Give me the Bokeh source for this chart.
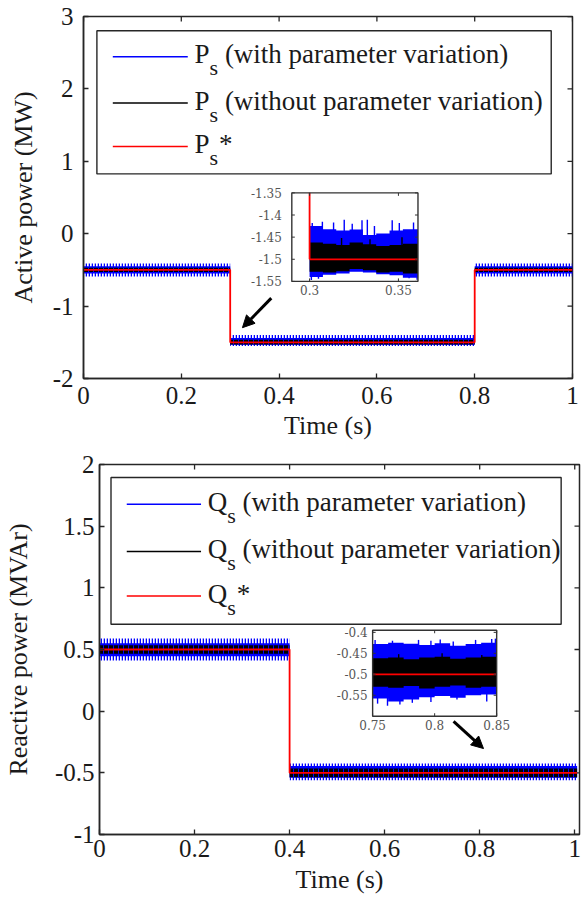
import numpy as np
from bokeh.plotting import figure
from bokeh.layouts import column
from bokeh.models import Range1d, FixedTicker, Arrow, NormalHead
from bokeh.embed import file_html
from bokeh.resources import INLINE
from bokeh.core.properties import value

FONT = "'Liberation Serif', 'Times New Roman', 'DejaVu Serif', serif"
SMALL_FONT = "'DejaVu Serif', 'Liberation Serif', serif"
BLUE, BLACK, RED = "#0000ff", "#000000", "#ff0000"
INK = "#262626"

# ---------------- Active power (MW) ----------------
p_edges = [0.0, 0.3, 0.8, 1.0]
p_ref = [-0.5, -1.5, -0.5]
p_blue_hi = [-0.41, -1.40, -0.41]          # spike envelope
p_blue_lo = [-0.59, -1.55, -0.59]
p_blue_core_hi = [-0.45, -1.44, -0.45]     # dense core
p_blue_core_lo = [-0.55, -1.535, -0.55]
p_black_hi = [-0.47, -1.465, -0.47]
p_black_lo = [-0.53, -1.53, -0.53]

p_xtick_labels = ["0", "0.2", "0.4", "0.6", "0.8", "1"]
p_ytick_labels = ["-2", "-1", "0", "1", "2", "3"]

# inset: zoom on the step at 0.3 s
p_zoom_edges = [0.300, 0.3075, 0.315, 0.3225, 0.330, 0.3375, 0.345, 0.3525, 0.361]
p_zoom_blue_hi = [-1.425, -1.432, -1.435, -1.433, -1.445, -1.442, -1.435, -1.432]
p_zoom_blue_lo = [-1.540, -1.535, -1.532, -1.528, -1.530, -1.534, -1.536, -1.542]
p_zoom_black_hi = [-1.462, -1.465, -1.468, -1.462, -1.466, -1.470, -1.468, -1.465]
p_zoom_black_lo = [-1.528, -1.530, -1.527, -1.522, -1.525, -1.530, -1.528, -1.532]
p_spike_up_t = [0.3015, 0.3072, 0.3135, 0.3195, 0.324, 0.3295, 0.3325, 0.3365, 0.3465, 0.3505, 0.3585]
p_spike_up_v = [-1.418, -1.415, -1.417, -1.411, -1.420, -1.412, -1.411, -1.425, -1.412, -1.418, -1.417]
p_spike_dn_t = [0.301, 0.305, 0.356, 0.3605]
p_spike_dn_v = [-1.547, -1.544, -1.543, -1.546]
p_kspike_t = [0.318, 0.334, 0.352]
p_kspike_v = [-1.452, -1.455, -1.450]
p_zoom_xtick_labels = ["0.3", "0.35"]
p_zoom_ytick_labels = ["-1.55", "-1.5", "-1.45", "-1.4", "-1.35"]

# ---------------- Reactive power (MVAr) ----------------
q_edges = [0.0, 0.4, 1.005]
q_ref = [0.5, -0.5]
q_blue_hi = [0.59, -0.425]
q_blue_lo = [0.41, -0.56]
q_blue_core_hi = [0.55, -0.445]
q_blue_core_lo = [0.445, -0.54]
q_black_hi = [0.535, -0.465]
q_black_lo = [0.465, -0.535]

q_xtick_labels = ["0", "0.2", "0.4", "0.6", "0.8", "1"]
q_ytick_labels = ["-1", "-0.5", "0", "0.5", "1", "1.5", "2"]

q_zoom_edges = [0.75, 0.7625, 0.775, 0.7875, 0.80, 0.8125, 0.825, 0.8375, 0.85]
q_zoom_blue_hi = [-0.428, -0.425, -0.427, -0.430, -0.426, -0.432, -0.428, -0.425]
q_zoom_blue_lo = [-0.558, -0.565, -0.560, -0.555, -0.552, -0.556, -0.550, -0.548]
q_zoom_black_hi = [-0.462, -0.460, -0.464, -0.460, -0.458, -0.463, -0.460, -0.458]
q_zoom_black_lo = [-0.530, -0.532, -0.528, -0.534, -0.530, -0.527, -0.532, -0.530]
q_spike_up_t = [0.752, 0.766, 0.787, 0.797, 0.8045, 0.815, 0.833, 0.846, 0.849]
q_spike_up_v = [-0.418, -0.420, -0.418, -0.420, -0.417, -0.422, -0.418, -0.416, -0.415]
q_spike_dn_t = [0.754, 0.762, 0.772, 0.782, 0.797, 0.818, 0.842]
q_spike_dn_v = [-0.570, -0.575, -0.572, -0.568, -0.566, -0.560, -0.565]
q_kspike_t = [0.771, 0.806, 0.838]
q_kspike_v = [-0.452, -0.450, -0.454]
q_zoom_xtick_labels = ["0.75", "0.8", "0.85"]
q_zoom_ytick_labels = ["-0.55", "-0.5", "-0.45", "-0.4"]

p_legend = [("P", "s", "(with parameter variation)"),
            ("P", "s", "(without parameter variation)"),
            ("P", "s", "*")]
q_legend = [("Q", "s", "(with parameter variation)"),
            ("Q", "s", "(without parameter variation)"),
            ("Q", "s", "*")]
legend_colors = [BLUE, BLACK, RED]


def step_xy(edges, vals):
    e = np.asarray(edges, float)
    v = np.asarray(vals, float)
    return np.repeat(e, 2)[1:-1], np.repeat(v, 2)


def level_at(edges, vals, t):
    idx = np.clip(np.searchsorted(edges, t, side="right") - 1, 0, len(vals) - 1)
    return np.asarray(vals, float)[idx]


def clip_segments(xs, ys, xr, yr):
    out = ([], [], [], [])
    for i in range(len(xs) - 1):
        x0, y0, x1, y1 = xs[i], ys[i], xs[i + 1], ys[i + 1]
        dx, dy = x1 - x0, y1 - y0
        t0, t1, ok = 0.0, 1.0, True
        for pp, qq in ((-dx, x0 - xr[0]), (dx, xr[1] - x0), (-dy, y0 - yr[0]), (dy, yr[1] - y0)):
            if pp == 0:
                if qq < 0:
                    ok = False
                    break
            else:
                r = qq / pp
                if pp < 0:
                    t0 = max(t0, r)
                else:
                    t1 = min(t1, r)
        if ok and t0 < t1:
            out[0].append(x0 + t0 * dx)
            out[1].append(y0 + t0 * dy)
            out[2].append(x0 + t1 * dx)
            out[3].append(y0 + t1 * dy)
    return out


def style_axis(ax, labels, standoff):
    ticks = [float(s) for s in labels]
    ax.ticker = FixedTicker(ticks=ticks, minor_ticks=[])
    ax.major_label_overrides = {t: s for t, s in zip(ticks, labels)}
    ax.major_tick_in = 5
    ax.major_tick_out = 0
    ax.minor_tick_line_color = None
    ax.axis_line_color = INK
    ax.axis_line_width = 1.5
    ax.major_tick_line_color = INK
    ax.major_tick_line_width = 1.3
    ax.major_label_text_font = FONT
    ax.major_label_text_color = "#1a1a1a"
    ax.major_label_text_font_size = "25px"
    ax.major_label_standoff = standoff
    ax.axis_label_text_font = FONT
    ax.axis_label_text_font_size = "26px"
    ax.axis_label_text_font_style = "normal"
    ax.axis_label_text_color = "#1a1a1a"


def make_panel(height, xr, yr, borders, xlabels, ylabels, ylabel, ystand, ylab_stand, xstand, xlab_stand):
    p = figure(width=583, height=height, x_range=Range1d(*xr), y_range=Range1d(*yr),
               output_backend="svg", toolbar_location=None, frame_align=False,
               min_border_left=borders[0], min_border_right=borders[1],
               min_border_top=borders[2], min_border_bottom=borders[3])
    p.xgrid.visible = False
    p.ygrid.visible = False
    p.outline_line_color = INK
    p.outline_line_width = 1.5
    p.outline_line_alpha = 1.0
    style_axis(p.xaxis[0], xlabels, xstand)
    style_axis(p.yaxis[0], ylabels, ystand)
    p.xaxis[0].axis_label = "Time (s)"
    p.xaxis[0].axis_label_standoff = xlab_stand
    p.yaxis[0].axis_label = ylabel
    p.yaxis[0].axis_label_standoff = ylab_stand
    # inward ticks on the top and right edges of the box
    xt = [float(s) for s in xlabels]
    yt = [float(s) for s in ylabels]
    p.ray(x=xt, y=[yr[1]] * len(xt), length=5, length_units="screen", angle=-np.pi / 2,
          line_color=INK, line_width=1.3)
    p.ray(x=[xr[1]] * len(yt), y=yt, length=5, length_units="screen", angle=np.pi,
          line_color=INK, line_width=1.3)
    return p


def draw_signals(p, edges, ref, bhi, blo, chi, clo, khi, klo):
    e = np.asarray(edges, float)
    p.quad(left=e[:-1], right=e[1:], bottom=blo, top=bhi, fill_color=None, line_color=None,
           hatch_pattern="vertical_line", hatch_color=BLUE, hatch_scale=3, hatch_weight=1.6)
    p.quad(left=e[:-1], right=e[1:], bottom=clo, top=chi, fill_color=BLUE, line_color=None)
    p.quad(left=e[:-1], right=e[1:], bottom=klo, top=khi, fill_color=BLACK, line_color=None,
           hatch_pattern="vertical_line", hatch_color=BLUE, hatch_scale=5, hatch_weight=1.0)
    rx, ry = step_xy(edges, ref)
    p.line(rx, ry, line_color=RED, line_width=1.8)


def draw_inset(p, xs, ys, xt, yt, zedges, bhi, blo, khi, klo, up_t, up_v, dn_t, dn_v, kt, kv,
               edges, ref, xlabels, ylabels, ylab_gap):
    ins = p.subplot(x_source=Range1d(*xs), y_source=Range1d(*ys),
                    x_target=Range1d(*xt), y_target=Range1d(*yt))
    ins.quad(left=[xs[0]], right=[xs[1]], bottom=[ys[0]], top=[ys[1]],
             fill_color="white", line_color=None)
    bx, bh = step_xy(zedges, bhi)
    _, bl = step_xy(zedges, blo)
    ins.varea(x=bx, y1=bl, y2=bh, fill_color=BLUE)
    up_t = np.asarray(up_t, float)
    dn_t = np.asarray(dn_t, float)
    ins.segment(x0=up_t, y0=level_at(edges, ref, up_t), x1=up_t, y1=up_v, line_color=BLUE, line_width=1.4)
    ins.segment(x0=dn_t, y0=level_at(edges, ref, dn_t), x1=dn_t, y1=dn_v, line_color=BLUE, line_width=1.4)
    kx, kh = step_xy(zedges, khi)
    _, kl = step_xy(zedges, klo)
    ins.varea(x=kx, y1=kl, y2=kh, fill_color=BLACK)
    kt = np.asarray(kt, float)
    ins.segment(x0=kt, y0=level_at(edges, ref, kt), x1=kt, y1=kv, line_color=BLACK, line_width=1.4)
    rx, ry = step_xy(edges, ref)
    sx0, sy0, sx1, sy1 = clip_segments(rx, ry, xs, ys)
    ins.segment(x0=sx0, y0=sy0, x1=sx1, y1=sy1, line_color=RED, line_width=1.8)
    ins.quad(left=[xs[0]], right=[xs[1]], bottom=[ys[0]], top=[ys[1]],
             fill_color=None, line_color="#333333", line_width=1.4)
    xt_ = [float(s) for s in xlabels]
    yt_ = [float(s) for s in ylabels]
    ins.ray(x=xt_, y=[ys[0]] * len(xt_), length=3, length_units="screen", angle=np.pi / 2, line_color="#333333")
    ins.ray(x=xt_, y=[ys[1]] * len(xt_), length=3, length_units="screen", angle=-np.pi / 2, line_color="#333333")
    ins.ray(x=[xs[0]] * len(yt_), y=yt_, length=3, length_units="screen", angle=0, line_color="#333333")
    ins.ray(x=[xs[1]] * len(yt_), y=yt_, length=3, length_units="screen", angle=np.pi, line_color="#333333")
    ins.text(x=xt_, y=[ys[0]] * len(xt_), text=xlabels, text_align="center", text_baseline="top",
             y_offset=4, text_font=value(SMALL_FONT), text_font_size="12px", text_color="#555555")
    ins.text(x=[xs[0]] * len(yt_), y=yt_, text=ylabels, text_align="right", text_baseline="middle",
             x_offset=-ylab_gap, text_font=value(SMALL_FONT), text_font_size="12px", text_color="#555555")


def draw_legend(p, xt, yt, items, first_w):
    leg = p.subplot(x_source=Range1d(0, 1), y_source=Range1d(0, 1),
                    x_target=Range1d(*xt), y_target=Range1d(*yt))
    leg.quad(left=[0], right=[1], bottom=[0], top=[1], fill_color="white",
             line_color=INK, line_width=1.4)
    rows = [0.818, 0.495, 0.192]
    leg.segment(x0=[0.035] * 3, y0=rows, x1=[0.200] * 3, y1=rows,
                line_color=legend_colors, line_width=1.5)
    tx = [0.215] * 3
    leg.text(x=tx, y=rows, text=[it[0] for it in items], text_baseline="middle",
             y_offset=-2.5, text_font=value(FONT), text_font_size="27px", text_color="#1a1a1a")
    leg.text(x=tx, y=rows, text=[it[1] for it in items], text_baseline="middle",
             x_offset=first_w, y_offset=11, text_font=value(FONT), text_font_size="22px",
             text_color="#1a1a1a")
    offs = [first_w + 8.6 + 6.7, first_w + 8.6 + 6.7, first_w + 9.5]
    leg.text(x=tx, y=rows, text=[it[2] for it in items], text_baseline="middle",
             x_offset=offs, y_offset=-2.5, text_font=value(FONT), text_font_size="27px",
             text_color="#1a1a1a")


# ---------------- top panel ----------------
p1 = make_panel(449, (0, 1), (-2, 3), (83, 11, 16, 71), p_xtick_labels, p_ytick_labels,
                "Active power (MW)", 10, 12, 8, 4)
draw_signals(p1, p_edges, p_ref, p_blue_hi, p_blue_lo, p_blue_core_hi, p_blue_core_lo,
             p_black_hi, p_black_lo)
draw_inset(p1, (0.29, 0.361), (-1.55, -1.35), (0.426, 0.684), (-0.659, 0.564),
           p_zoom_edges, p_zoom_blue_hi, p_zoom_blue_lo, p_zoom_black_hi, p_zoom_black_lo,
           p_spike_up_t, p_spike_up_v, p_spike_dn_t, p_spike_dn_v, p_kspike_t, p_kspike_v,
           p_edges, p_ref, p_zoom_xtick_labels, p_zoom_ytick_labels, 10)
p1.add_layout(Arrow(end=NormalHead(size=12, fill_color="black", line_color="black"),
                    x_start=0.384, y_start=-0.890, x_end=0.325, y_end=-1.298,
                    line_width=3, line_color="black"))
draw_legend(p1, (0.0274, 0.9565), (0.826, 2.803), p_legend, 15.0)

# ---------------- bottom panel ----------------
p2 = make_panel(456, (0, 1.01), (-1, 2), (96, 4, 15, 71), q_xtick_labels, q_ytick_labels,
                "Reactive power (MVAr)", 5, 19, 5, 5)
draw_signals(p2, q_edges, q_ref, q_blue_hi, q_blue_lo, q_blue_core_hi, q_blue_core_lo,
             q_black_hi, q_black_lo)
draw_inset(p2, (0.75, 0.85), (-0.6, -0.395), (0.5747, 0.8357), (-0.041, 0.656),
           q_zoom_edges, q_zoom_blue_hi, q_zoom_blue_lo, q_zoom_black_hi, q_zoom_black_lo,
           q_spike_up_t, q_spike_up_v, q_spike_dn_t, q_spike_dn_v, q_kspike_t, q_kspike_v,
           q_edges, q_ref, q_zoom_xtick_labels, q_zoom_ytick_labels, 5)
p2.add_layout(Arrow(end=NormalHead(size=12, fill_color="black", line_color="black"),
                    x_start=0.745, y_start=-0.082, x_end=0.808, y_end=-0.303,
                    line_width=3, line_color="black"))
draw_legend(p2, (0.0242, 0.9714), (0.7048, 1.8946), q_legend, 19.5)

layout = column(p1, p2, spacing=0)
open("out.html", "w").write(file_html(layout, INLINE))
